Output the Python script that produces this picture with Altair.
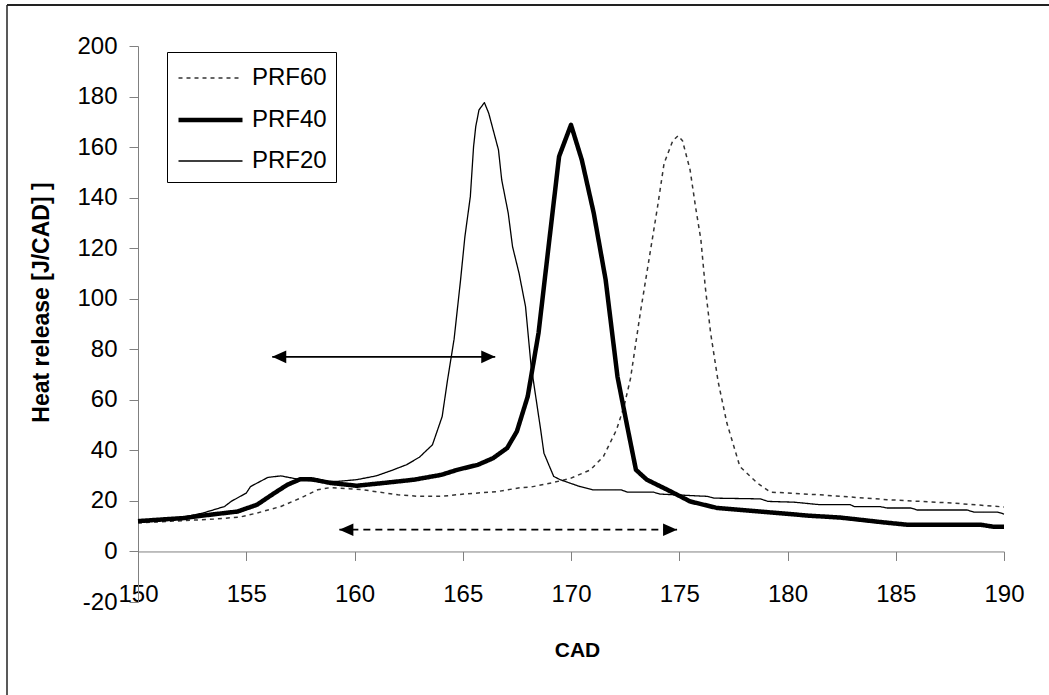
import altair as alt
import pandas as pd

# ---------------- data ----------------
series_order = ["PRF60", "PRF40", "PRF20"]

prf60_x = [150, 153.5, 154.7, 155.5, 156.6, 157.5, 158.3, 158.9, 160.4, 162.0, 163.0, 164.0,
           165.05, 166.6, 167.7, 168.15, 169.1, 170.0, 170.9, 171.5, 172.1, 172.45, 172.75,
           173.2, 173.65, 174.0, 174.3, 174.7, 174.95, 175.15, 175.5, 175.75, 176.0, 176.2,
           176.45, 176.8, 177.2, 177.8, 178.6, 179.2, 181.5, 184.6, 187.7, 190]
prf60_y = [11.3, 12.8, 13.6, 15.2, 17.8, 21.1, 24.4, 25.3, 24.4, 22.4, 21.8, 21.8,
           22.7, 23.7, 25.3, 25.5, 27.1, 29.0, 32.3, 37.6, 48.1, 57.4, 68.5,
           94.3, 118, 136.5, 153.6, 162.5, 164.5, 162.5, 151, 136.5, 123.3, 104.8,
           86.4, 67, 50.8, 33.6, 27.1, 23.5, 22.4, 20.5, 19.1, 17.6]

prf40_x = [150, 151.2, 152.1, 153.0, 154.6, 155.5, 156.3, 156.9, 157.5, 158.0, 158.9, 160.1,
           161.35, 162.75, 164.0, 164.75, 165.7, 166.4, 167.05, 167.5, 168.0, 168.5, 169.0,
           169.45, 170.0, 170.5, 171.05, 171.6, 172.15, 172.6, 173.0, 173.5, 174.45, 175.05,
           175.5, 176.75, 178.15, 180.0, 180.9, 182.45, 183.4, 184.45, 185.5, 188.9, 189.5, 190]
prf40_y = [12, 12.7, 13.2, 14.2, 15.8, 18.5, 23.1, 26.4, 28.6, 28.6, 27.1, 26.0,
           27.1, 28.4, 30.3, 32.3, 34.3, 36.9, 40.9, 47.5, 61.3, 86.4, 123.3,
           156.3, 168.8, 154.9, 133.9, 107.5, 69, 49.4, 32.3, 28.4, 24.4, 21.8,
           19.8, 17.2, 16.2, 14.9, 14.2, 13.4, 12.5, 11.5, 10.6, 10.6, 9.8, 9.8]

prf20_x = [150, 151.2, 152.1, 153.0, 154.0, 154.3, 155.0, 155.2, 156.0, 156.6, 157.2, 157.5,
           158.3, 159.2, 160.1, 161.0, 161.7, 162.4, 163.0, 163.6, 164.05, 164.3, 164.6,
           164.9, 165.1, 165.35, 165.5, 165.6, 165.75, 166.0, 166.2, 166.65, 166.8, 167.1,
           167.3, 167.6, 167.9, 168.15, 168.6, 168.75, 169.2, 169.5, 170.4, 171.0, 172.3,
           172.6, 173.8, 174.1, 176.3, 176.6, 178.75, 179.1, 180.3, 181.5, 182.9, 183.1,
           184.3, 184.6, 185.7, 186.0, 188.3, 188.6, 189.7, 190]
prf20_y = [12, 13, 13.6, 15.2, 17.8, 19.8, 23.1, 25.7, 29.3, 29.9, 28.9, 28.4,
           27.7, 27.7, 28.4, 29.9, 32, 34.3, 37.3, 42.2, 53.4, 68, 84,
           107.5, 124.6, 140.4, 160.2, 168.1, 174.7, 177.6, 173.4, 158.9, 147, 133.9,
           120.6, 110.1, 96.9, 74, 48.1, 38.9, 29.7, 28.4, 25.7, 24.4, 24.4,
           23.5, 23.5, 22.7, 21.8, 21.1, 20.8, 19.8, 19.5, 18.5, 18.5, 17.7,
           17.7, 17.2, 17.2, 16.4, 16.4, 15.6, 15.6, 14.8]

# arrows (annotation): start / end CAD and heat release level
arrow_style = ["solid", "dashed"]
arrow_x1 = [156.2, 159.3]
arrow_x2 = [166.5, 174.9]
arrow_y = [77, 8.6]

x_ticks = [150, 155, 160, 165, 170, 175, 180, 185, 190]
y_ticks = [-20, 0, 20, 40, 60, 80, 100, 120, 140, 160, 180, 200]

# ---------------- tables ----------------
rows = []
for name, xs, ys in [("PRF60", prf60_x, prf60_y), ("PRF40", prf40_x, prf40_y),
                     ("PRF20", prf20_x, prf20_y)]:
    for xv, yv in zip(xs, ys):
        rows.append({"series": name, "cad": xv, "hr": yv})
df = pd.DataFrame(rows)

arrows = pd.DataFrame({"style": arrow_style, "x1": arrow_x1, "x2": arrow_x2, "y": arrow_y})

FONT = "Liberation Sans"
W, H = 866, 556
PAD_L, PAD_T = 138, 46

x_scale = alt.Scale(domain=[150, 190], nice=False, zero=False)
y_scale = alt.Scale(domain=[-20, 200], nice=False, zero=False)
y0_offset = -H * 20 / 220  # move x axis up to y = 0

legend = alt.Legend(
    title=None, orient="none", legendX=29, legendY=6,
    strokeColor="black", fillColor="white", padding=9, cornerRadius=0,
    labelFont=FONT, labelFontSize=24, labelColor="black", labelOffset=39,
    symbolType="M-1,0L3,0", symbolSize=1024, rowPadding=11.5, labelLimit=300,
)

lines = alt.Chart(df).mark_line(strokeJoin="round").encode(
    x=alt.X("cad:Q", scale=x_scale, title="CAD",
            axis=alt.Axis(values=x_ticks, offset=y0_offset, tickSize=9, grid=False,
                          labelFlush=False,
                          domainColor="#808080", tickColor="#808080",
                          labelFont=FONT, labelFontSize=24, labelColor="black", labelPadding=22,
                          titleFont=FONT, titleFontSize=21, titleFontWeight="bold",
                          titleColor="black", titleX=439, titleY=99, titleBaseline="middle")),
    y=alt.Y("hr:Q", scale=y_scale, title="Heat release [J/CAD] ]",
            axis=alt.Axis(values=y_ticks, tickSize=9, grid=False, labelFlush=False,
                          domainColor="#808080", tickColor="#808080",
                          labelExpr="'' + datum.value",
                          labelFont=FONT, labelFontSize=24, labelColor="black", labelPadding=12,
                          titleFont=FONT, titleFontSize=23, titleFontWeight="bold",
                          titleColor="black", titleX=-97, titleY=256, titleAngle=270,
                          titleBaseline="middle")),
    color=alt.Color("series:N", scale=alt.Scale(domain=series_order,
                                                range=["#333333", "#000000", "#000000"]),
                    legend=legend),
    strokeDash=alt.StrokeDash("series:N", scale=alt.Scale(domain=series_order,
                                                         range=[[4, 4], [1, 0], [1, 0]]),
                              legend=legend),
    strokeWidth=alt.StrokeWidth("series:N", scale=alt.Scale(type="ordinal", domain=series_order,
                                                           range=[1.5, 4.5, 1.3]),
                                legend=legend),
)

base_arrows = alt.Chart(arrows)
solid_rule = base_arrows.transform_filter("datum.style == 'solid'").mark_rule(
    color="black", strokeWidth=1.8).encode(x="x1:Q", x2="x2:Q", y="y:Q")
dashed_rule = base_arrows.transform_filter("datum.style == 'dashed'").mark_rule(
    color="black", strokeWidth=1.8, strokeDash=[7, 5]).encode(x="x1:Q", x2="x2:Q", y="y:Q")
head_left = base_arrows.mark_point(shape="M0,0 L2,-0.9 L2,0.9 Z", filled=True, size=196,
                                   color="black", opacity=1).encode(x="x1:Q", y="y:Q")
head_right = base_arrows.mark_point(shape="M0,0 L-2,-0.9 L-2,0.9 Z", filled=True, size=196,
                                    color="black", opacity=1).encode(x="x2:Q", y="y:Q")

# outer frame of the picture (top and left edges)
frame_df = pd.DataFrame({"k": [0]})
frame_top = alt.Chart(frame_df).mark_rule(color="#222222", strokeWidth=2).encode(
    x=alt.value(7 - PAD_L), x2=alt.value(1049 - PAD_L + 5), y=alt.value(5 - PAD_T))
frame_left = alt.Chart(frame_df).mark_rule(color="#222222", strokeWidth=1.5).encode(
    x=alt.value(7 - PAD_L), y=alt.value(5 - PAD_T), y2=alt.value(695 - PAD_T + 5))

chart = alt.layer(lines, solid_rule, dashed_rule, head_left, head_right, frame_top, frame_left).properties(
    width=W, height=H,
    autosize=alt.AutoSizeParams(type="none"),
    padding={"left": PAD_L, "top": PAD_T, "right": 1049 - PAD_L - W, "bottom": 695 - PAD_T - H},
    background="white",
).configure_view(stroke=None)

chart.save("out.html", embed_options={"renderer": "svg", "actions": False})
